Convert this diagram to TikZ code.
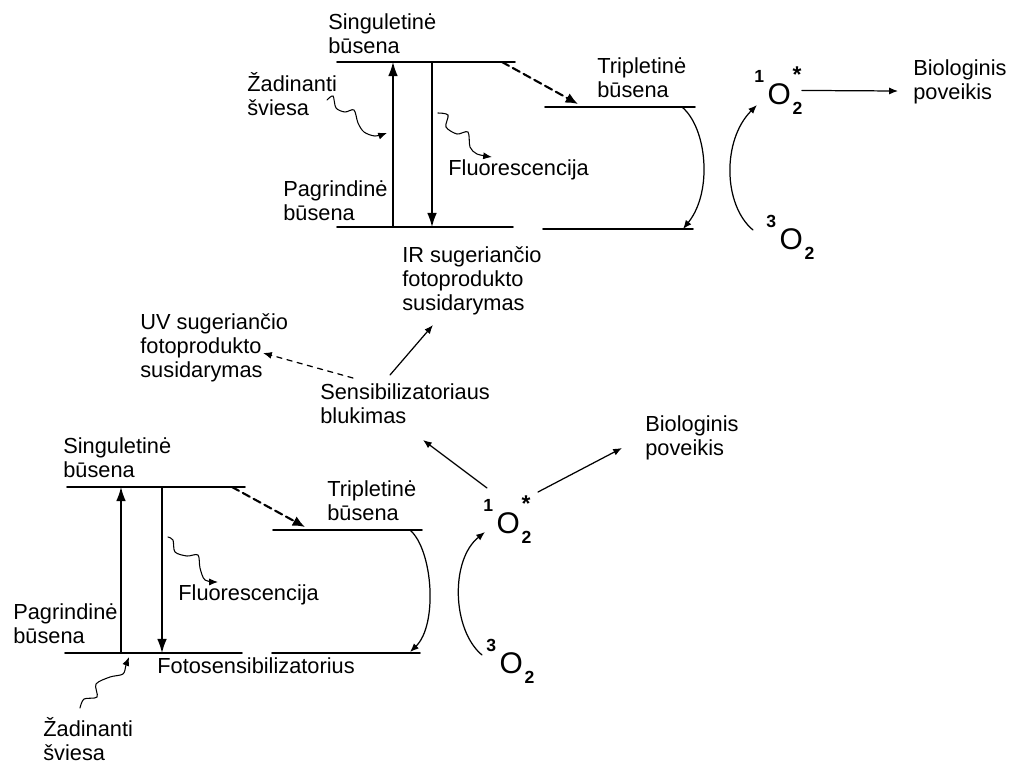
\documentclass[tikz,border=0pt]{standalone}
\usepackage{fontspec}
\setmainfont{Liberation Sans}
\usetikzlibrary{arrows.meta}
\newcommand{\oxsup}{\fontsize{10}{10}\selectfont\bfseries}
\newcommand{\molox}[2]{\raisebox{12pt}{\oxsup #1}\kern2pt O\kern1pt\rlap{\raisebox{-6pt}{\oxsup 2}}\raisebox{12.5pt}{\fontsize{13}{13}\selectfont\bfseries #2}}

\begin{document}
\begin{tikzpicture}[x=0.02cm,y=-0.02cm,line cap=round,
    txt/.style={anchor=base west,inner sep=0pt,align=left,font=\fontsize{12.4}{13.4}\selectfont},
    mol/.style={anchor=base west,inner sep=0pt,font=\fontsize{17}{17}\selectfont},
    lvl/.style={line width=1pt},
    bigarr/.style={line width=0.8pt,-{Latex[length=8pt,width=5.5pt]}},
    arr/.style={line width=0.7pt,-{Latex[length=5pt,width=4pt]}},
    dasharr/.style={line width=1.2pt,dash pattern=on 4.5pt off 2.5pt,-{Latex[length=7pt,width=6pt]}},
    wave/.style={line width=0.6pt,-{Latex[length=5pt,width=4pt]}}]
  \useasboundingbox (0,0) rectangle (1011,765);

  % top: energy levels
  \coordinate (s1a) at (337,62);  \coordinate (s1b) at (515,62);
  \coordinate (g1a) at (337,227); \coordinate (g1b) at (513,227);
  \coordinate (g1c) at (543,229); \coordinate (g1d) at (693,229);
  \coordinate (t1a) at (545,107); \coordinate (t1b) at (695,107);
  \draw[lvl] (s1a) -- (s1b);
  \draw[lvl] (g1a) -- (g1b);
  \draw[lvl] (g1c) -- (g1d);
  \draw[lvl] (t1a) -- (t1b);
  \draw[bigarr] (393,227) -- (393,62);
  \draw[bigarr] (432,62) -- (432,227);
  \draw[dasharr] (502,62) -- (578,104);
  \draw[arr] (682,107) .. controls (707,128) and (713,192) .. (683,229);

  \node[txt] (sing1) at (328,53) {Singuletinė\\būsena};
  \node[txt] (zad1) at (247,115) {Žadinanti\\šviesa};
  \node[txt] (pag1) at (283,220) {Pagrindinė\\būsena};
  \node[txt] (flu1) at (448,175) {Fluorescencija};
  \node[txt] (trip1) at (597,97) {Tripletinė\\būsena};
  \node[txt] (bio1) at (913,99) {Biologinis\\poveikis};
  \draw[wave] plot[smooth] coordinates {(327,100) (333,96) (336,108) (345,112) (354,110) (358,123) (364,132) (375,136) (387,133)};
  \draw[wave] plot[smooth] coordinates {(438,113) (448,115) (446,127) (457,134) (468,132) (470,147) (477,154) (492,157)};

  \node[mol] (o1top) at (754,104) {\molox{1}{*}};
  \node[mol] (o3top) at (766,249) {\molox{3}{}};
  \coordinate (bio1in) at (898,91);
  \draw[arr] (753,230) .. controls (723,205) and (722,140) .. (757,105);
  \draw[arr] (o1top.east) -- (bio1in);

  % middle
  \node[txt] (ir) at (402,310) {IR sugeriančio\\fotoprodukto\\susidarymas};
  \node[txt] (uv) at (140,377) {UV sugeriančio\\fotoprodukto\\susidarymas};
  \node[txt] (sens) at (320,423) {Sensibilizatoriaus\\blukimas};
  \node[txt] (bio2) at (645,455) {Biologinis\\poveikis};
  \coordinate (senstop) at (390,375);
  \coordinate (sensleft) at (353,378);
  \draw[arr] (senstop) -- (433,325);
  \draw[arr,dashed] (sensleft) -- (263,353);

  % bottom: energy levels
  \coordinate (s2a) at (67,487);  \coordinate (s2b) at (245,487);
  \coordinate (g2a) at (65,653);  \coordinate (g2b) at (242,653);
  \coordinate (g2c) at (272,653); \coordinate (g2d) at (420,653);
  \coordinate (t2a) at (273,530); \coordinate (t2b) at (422,530);
  \draw[lvl] (s2a) -- (s2b);
  \draw[lvl] (g2a) -- (g2b);
  \draw[lvl] (g2c) -- (g2d);
  \draw[lvl] (t2a) -- (t2b);
  \draw[bigarr] (121,653) -- (121,487);
  \draw[bigarr] (162,487) -- (162,653);
  \draw[dasharr] (232,487) -- (305,527);
  \draw[arr] (410,530) .. controls (433,550) and (438,625) .. (410,652);

  \node[txt] (sing2) at (63,477) {Singuletinė\\būsena};
  \node[txt] (trip2) at (327,520) {Tripletinė\\būsena};
  \node[txt] (flu2) at (178,600) {Fluorescencija};
  \node[txt] (pag2) at (13,643) {Pagrindinė\\būsena};
  \node[txt] (foto) at (157,673) {Fotosensibilizatorius};
  \node[txt] (zad2) at (43,760) {Žadinanti\\šviesa};
  \draw[wave] plot[smooth] coordinates {(168,537) (173,540) (175,552) (187,556) (198,555) (200,568) (205,580) (218,582)};
  \draw[wave] plot[smooth] coordinates {(80,708) (84,699) (97,697) (96,684) (110,677) (123,674) (126,665) (129,657)};

  \node[mol] (o1bot) at (483,533) {\molox{1}{*}};
  \node[mol] (o3bot) at (486,673) {\molox{3}{}};
  \draw[arr] (482,655) .. controls (452,630) and (450,560) .. (485,532);
  \draw[arr] (487,488) -- (423,440);
  \draw[arr] (538,492) -- (622,448);
\end{tikzpicture}
\end{document}
